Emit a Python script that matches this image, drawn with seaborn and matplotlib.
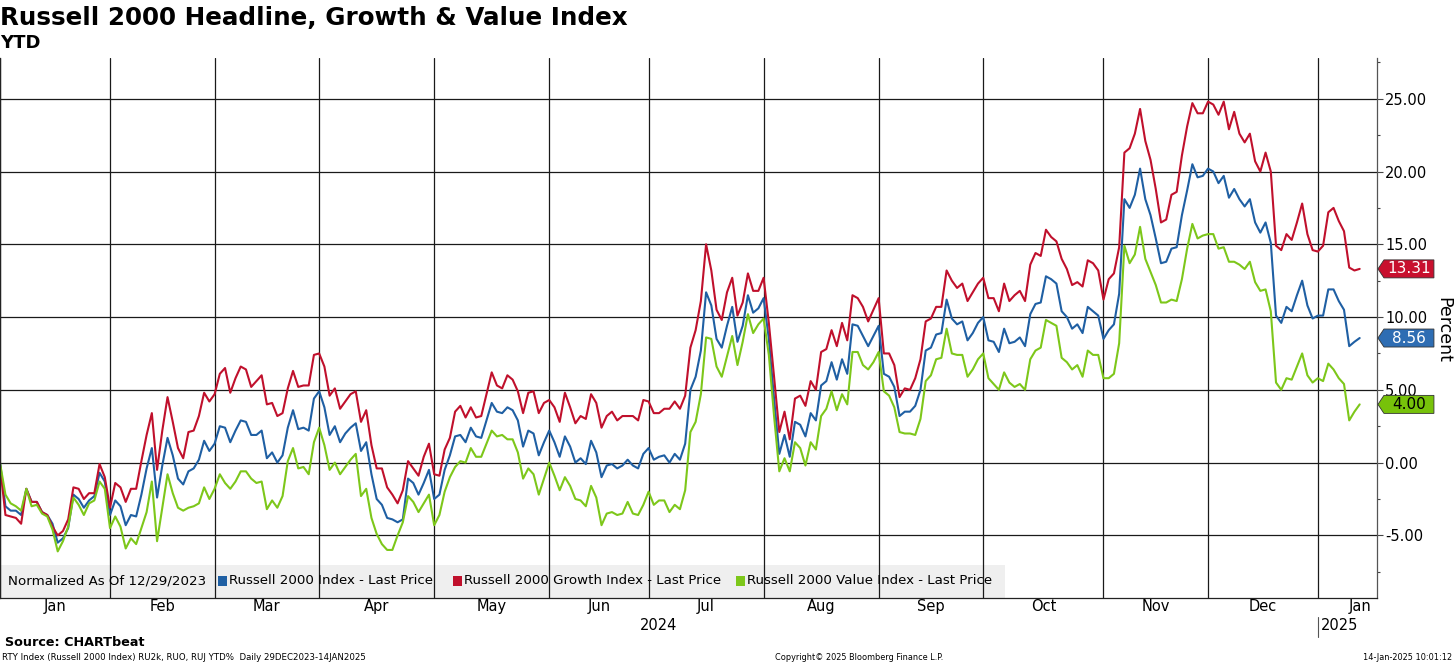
import numpy as np
import pandas as pd
import matplotlib
matplotlib.use("Agg")
import matplotlib.pyplot as plt
import matplotlib.transforms as mtransforms
from matplotlib.patches import Polygon, Rectangle
from matplotlib.ticker import MultipleLocator, FormatStrFormatter
import seaborn as sns

sns.set_theme(style="white")
plt.rcParams["font.family"] = ["DejaVu Sans"]
plt.rcParams["text.color"] = "black"
plt.rcParams["xtick.color"] = "black"
plt.rcParams["ytick.color"] = "black"

# NYSE closures in the window (Bloomberg skips them on the axis)
holidays = ["2024-01-01", "2024-01-15", "2024-02-19", "2024-03-29", "2024-05-27",
            "2024-06-19", "2024-07-04", "2024-09-02", "2024-11-28", "2024-12-25",
            "2025-01-01"]

# YTD % change, one value per trading day from 29-Dec-2023 to 14-Jan-2025
russell_2000 = [
    0.0, -0.1, -3.0, -3.3, -3.3, -3.6, -1.8, -2.7, -2.7, -3.4,
    -3.6, -4.2, -5.5, -5.2, -4.5, -2.2, -2.5, -3.1, -2.6, -2.3,
    -0.7, -1.3, -3.6, -2.6, -3.0, -4.3, -3.6, -3.7, -2.2, -0.4,
    1.0, -2.4, -0.2, 1.7, 0.5, -1.1, -1.5, -0.6, -0.4, 0.2,
    1.5, 0.8, 1.3, 2.5, 2.4, 1.4, 2.2, 2.9, 2.8, 1.9,
    1.9, 2.2, 0.3, 0.7, 0.0, 0.5, 2.4, 3.6, 2.3, 2.4,
    2.2, 4.4, 4.9, 3.8, 1.9, 2.5, 1.4, 2.0, 2.4, 2.7,
    0.8, 1.4, -0.8, -2.5, -2.9, -3.8, -3.9, -4.1, -3.9, -1.1,
    -1.4, -2.2, -1.4, -0.5, -2.5, -2.2, -0.5, 0.5, 1.8, 1.9,
    1.4, 2.4, 1.8, 1.7, 2.9, 4.1, 3.5, 3.4, 3.8, 3.6,
    2.9, 1.1, 2.2, 2.0, 0.5, 1.4, 2.2, 1.4, 0.4, 1.8,
    1.1, 0.0, 0.3, -0.1, 1.5, 0.7, -1.0, -0.2, -0.1, -0.4,
    -0.2, 0.2, -0.2, -0.4, 0.6, 1.0, 0.2, 0.4, 0.5, 0.0,
    0.6, 0.2, 1.3, 5.0, 5.9, 7.7, 11.7, 10.8, 8.5, 7.9,
    9.4, 10.7, 8.3, 9.4, 11.5, 10.3, 10.6, 11.3, 8.5, 4.4,
    0.6, 1.9, 0.4, 2.8, 2.6, 1.8, 3.4, 2.9, 5.3, 5.6,
    6.9, 5.7, 7.1, 6.1, 9.5, 9.4, 8.7, 8.0, 8.7, 9.4,
    6.1, 5.9, 5.2, 3.2, 3.5, 3.5, 3.9, 5.0, 7.7, 7.9,
    8.8, 8.9, 11.2, 9.9, 9.5, 9.7, 8.4, 8.9, 9.6, 10.0,
    8.4, 8.3, 7.6, 9.2, 8.2, 8.3, 8.6, 8.0, 10.2, 10.9,
    11.0, 12.8, 12.6, 12.3, 10.4, 10.0, 9.2, 9.5, 8.9, 10.7,
    10.4, 10.1, 8.5, 9.1, 9.5, 11.6, 18.1, 17.5, 18.4, 20.2,
    18.1, 17.0, 15.4, 13.7, 13.8, 14.7, 14.8, 17.0, 18.7, 20.5,
    19.6, 19.7, 20.2, 20.0, 19.2, 19.7, 18.2, 18.8, 18.1, 17.6,
    18.1, 16.5, 15.8, 16.5, 15.1, 10.1, 9.6, 10.7, 10.4, 11.5,
    12.5, 10.8, 9.9, 10.1, 10.1, 11.9, 11.9, 11.1, 10.5, 8.0,
    8.3, 8.56,
]

russell_growth = [
    0.0, -0.3, -3.6, -3.7, -3.8, -4.2, -1.8, -2.7, -2.7, -3.4,
    -3.6, -4.4, -5.0, -4.7, -3.9, -1.7, -1.8, -2.5, -2.1, -2.1,
    -0.1, -1.0, -3.1, -1.4, -1.7, -2.7, -1.8, -1.8, 0.1, 1.9,
    3.4, -0.5, 2.2, 4.5, 2.8, 1.0, 0.3, 2.1, 2.2, 3.2,
    4.8, 4.2, 4.7, 6.1, 6.5, 4.8, 5.8, 6.6, 6.4, 5.2,
    5.6, 6.0, 4.0, 4.1, 3.2, 3.4, 5.1, 6.3, 5.2, 5.3,
    5.3, 7.4, 7.5, 6.6, 4.6, 5.1, 3.7, 4.2, 4.7, 4.9,
    2.8, 3.6, 1.2, -0.4, -0.4, -1.7, -2.2, -2.8, -1.9, 0.1,
    -0.4, -0.9, 0.4, 1.3, -0.8, -0.9, 0.9, 1.7, 3.5, 3.9,
    3.1, 3.8, 3.1, 3.2, 4.7, 6.2, 5.3, 5.1, 6.0, 5.7,
    4.9, 3.4, 4.8, 4.9, 3.4, 4.1, 4.3, 3.8, 2.8, 4.8,
    3.8, 2.7, 3.2, 3.0, 4.7, 4.1, 2.4, 3.2, 3.5, 2.9,
    3.2, 3.2, 3.2, 2.9, 4.3, 4.2, 3.4, 3.4, 3.7, 3.7,
    4.2, 3.7, 4.6, 7.9, 9.1, 11.1, 15.0, 13.2, 10.5, 9.8,
    11.7, 12.7, 10.1, 11.0, 13.0, 11.8, 11.8, 12.7, 9.6, 5.9,
    2.1, 3.5, 1.6, 4.4, 4.6, 3.9, 5.6, 5.0, 7.6, 7.8,
    9.1, 8.0, 9.6, 8.4, 11.5, 11.3, 10.7, 9.7, 10.5, 11.3,
    7.5, 7.5, 6.7, 4.5, 5.1, 5.0, 5.8, 7.1, 9.7, 9.9,
    10.7, 10.7, 13.2, 12.5, 12.0, 12.3, 11.1, 11.7, 12.3, 12.7,
    11.3, 11.3, 10.4, 12.3, 11.1, 11.5, 11.8, 11.1, 13.6, 14.4,
    14.2, 16.0, 15.5, 15.2, 14.0, 13.3, 12.2, 12.4, 12.1, 13.9,
    13.7, 13.2, 11.2, 12.6, 13.0, 14.8, 21.3, 21.6, 22.6, 24.3,
    22.1, 20.8, 18.8, 16.5, 16.7, 18.4, 18.6, 21.1, 23.1, 24.7,
    24.0, 24.0, 24.8, 24.6, 23.9, 24.8, 22.9, 24.1, 22.6, 22.0,
    22.6, 20.7, 20.0, 21.3, 20.0, 14.9, 14.6, 15.7, 15.3, 16.5,
    17.8, 15.7, 14.6, 14.5, 14.9, 17.2, 17.5, 16.6, 15.9, 13.4,
    13.2, 13.31,
]

russell_value = [
    0.0, -0.1, -2.2, -2.8, -3.0, -3.3, -1.8, -3.0, -2.9, -3.5,
    -3.7, -4.6, -6.1, -5.4, -4.4, -2.4, -2.9, -3.6, -2.8, -2.6,
    -1.3, -1.8, -4.5, -3.7, -4.4, -5.9, -5.2, -5.6, -4.5, -3.4,
    -1.3, -5.4, -3.1, -0.8, -2.1, -3.1, -3.3, -3.1, -3.0, -2.8,
    -1.7, -2.5, -1.8, -0.8, -1.4, -1.8, -1.3, -0.6, -0.6, -1.1,
    -1.4, -1.3, -3.2, -2.6, -3.1, -2.3, 0.1, 1.0, -0.4, -0.3,
    -0.8, 1.4, 2.4, 1.2, -0.5, 0.0, -0.8, -0.3, 0.2, 0.6,
    -2.3, -1.8, -3.8, -4.9, -5.6, -6.0, -6.0, -5.0, -4.1, -2.3,
    -2.7, -3.4, -2.8, -2.2, -4.3, -3.6, -2.0, -1.0, -0.3, 0.1,
    0.0, 1.0, 0.4, 0.4, 1.3, 2.2, 1.8, 1.9, 1.6, 1.6,
    0.7, -1.1, -0.4, -0.8, -2.2, -1.1, 0.0, -0.9, -1.9, -1.0,
    -1.6, -2.5, -2.6, -3.0, -1.6, -2.4, -4.3, -3.5, -3.4, -3.6,
    -3.5, -2.7, -3.5, -3.6, -2.9, -2.0, -2.9, -2.6, -2.6, -3.4,
    -2.9, -3.2, -1.9, 2.1, 2.8, 4.7, 8.6, 8.5, 6.6, 5.9,
    7.3, 8.7, 6.7, 8.3, 10.2, 8.9, 9.5, 9.9, 7.4, 3.2,
    -0.6, 0.3, -0.6, 1.4, 1.0, -0.2, 1.4, 0.9, 3.2, 3.7,
    4.9, 3.6, 4.7, 4.0, 7.6, 7.6, 6.7, 6.4, 6.9, 7.6,
    4.9, 4.6, 3.8, 2.1, 2.0, 2.0, 1.9, 3.0, 5.6, 6.0,
    7.1, 7.2, 9.2, 7.5, 7.4, 7.4, 5.9, 6.4, 7.1, 7.5,
    5.8, 5.4, 5.0, 6.2, 5.5, 5.2, 5.4, 5.0, 7.1, 7.7,
    7.9, 9.8, 9.6, 9.4, 7.2, 6.9, 6.4, 6.7, 5.9, 7.7,
    7.4, 7.4, 5.8, 5.8, 6.1, 8.2, 14.9, 13.7, 14.3, 16.2,
    14.0, 13.1, 12.2, 11.0, 11.0, 11.2, 11.1, 12.6, 14.7, 16.4,
    15.4, 15.6, 15.7, 15.7, 14.7, 14.8, 13.8, 13.8, 13.6, 13.3,
    13.8, 12.4, 11.8, 11.9, 10.4, 5.5, 5.0, 5.8, 5.7, 6.6,
    7.5, 6.0, 5.5, 5.8, 5.6, 6.8, 6.4, 5.8, 5.4, 2.9,
    3.5, 4.00,
]

series_names = ["Russell 2000 Index - Last Price",
                "Russell 2000 Growth Index - Last Price",
                "Russell 2000 Value Index - Last Price"]
line_colors = ["#1f5fa3", "#c0102c", "#7dc71a"]
tag_colors = ["#2e6db3", "#c8102e", "#77c20a"]
tag_text_colors = ["white", "white", "black"]

# trading-day axis
days = pd.bdate_range("2023-12-29", "2025-01-14")
days = days[~days.isin(pd.to_datetime(holidays))]
pos = np.arange(len(days))

wide = pd.DataFrame({"pos": pos,
                     series_names[0]: russell_2000,
                     series_names[1]: russell_growth,
                     series_names[2]: russell_value})
long = wide.melt(id_vars="pos", var_name="series", value_name="pct")

fig = plt.figure(figsize=(14.56, 6.65), dpi=100)
ax = fig.add_axes([0.0, 0.1008, 0.9457, 0.812])
ax.set_axisbelow("line")

sns.lineplot(data=long, x="pos", y="pct", hue="series", hue_order=series_names,
             palette=line_colors, linewidth=1.5, legend=False, ax=ax,
             estimator=None, errorbar=None)

x_lo, x_hi = 0.96, 264.3
y_lo, y_hi = -9.3, 27.8
ax.set_xlim(x_lo, x_hi)
ax.set_ylim(y_lo, y_hi)
ax.set_xlabel("")
ax.set_ylabel("")

# month boundaries
month = days.to_period("M")
starts = list(np.flatnonzero(month[1:] != month[:-1]) + 1)
ax.set_xticks(starts)
ax.set_xticklabels([])
ax.tick_params(axis="x", length=0)

ax.yaxis.tick_right()
ax.yaxis.set_major_locator(MultipleLocator(5))
ax.yaxis.set_minor_locator(MultipleLocator(2.5))
ax.yaxis.set_major_formatter(FormatStrFormatter("%.2f"))
ax.tick_params(axis="y", which="major", length=4, width=0.8, color="#444444",
               labelsize=10.5, labelcolor="black", pad=2, right=True, left=False)
ax.tick_params(axis="y", which="minor", length=2, width=0.8, color="#444444",
               right=True, left=False)
ax.grid(True, which="major", color="#1a1a1a", linewidth=0.9)

for side in ["left", "bottom", "right"]:
    ax.spines[side].set_visible(True)
    ax.spines[side].set_color("#222222")
    ax.spines[side].set_linewidth(0.9)
ax.spines["right"].set_color("#555555")
ax.spines["top"].set_visible(False)

W = ax.get_position().width * fig.get_figwidth() * fig.dpi
H = ax.get_position().height * fig.get_figheight() * fig.dpi
fx = lambda px: px / W
fy = lambda px: px / H
blend = mtransforms.blended_transform_factory(ax.transData, ax.transAxes)
blend_y = mtransforms.blended_transform_factory(ax.transAxes, ax.transData)

# month names and years under the axis
for i, s in enumerate(starts):
    if i + 1 < len(starts):
        cx = (s + starts[i + 1]) / 2
    else:
        cx = pos[-1]
    ax.text(cx, -fy(9), days[s].strftime("%b"), transform=blend, ha="center",
            va="center", fontsize=10.5, clip_on=False)
year_starts = [s for s in starts if days[s].month == 1]
ax.text((year_starts[0] + year_starts[1]) / 2, -fy(28), str(days[year_starts[0]].year),
        transform=blend, ha="center", va="center", fontsize=10.5, clip_on=False)
ax.text(year_starts[1] + 0.6, -fy(28), str(days[year_starts[1]].year),
        transform=blend, ha="left", va="center", fontsize=10.5, clip_on=False)
ax.plot([year_starts[1], year_starts[1]], [-fy(19), -fy(39)], transform=blend,
        color="#555555", lw=0.8, clip_on=False)

# legend strip inside the plot (gridlines show through it)
ax.add_patch(Rectangle((0, 0), fx(1005), fy(33), transform=ax.transAxes,
                       facecolor="#efefef", edgecolor="none", zorder=1))
leg_y = fy(17)
ax.text(fx(8), leg_y, "Normalized As Of 12/29/2023", transform=ax.transAxes,
        fontsize=9.6, va="center", ha="left", zorder=3)
for name, col, sq_x in zip(series_names, line_colors, [218, 453, 736]):
    ax.add_patch(Rectangle((fx(sq_x), leg_y - fy(5)), fx(9), fy(10),
                           transform=ax.transAxes, facecolor=col,
                           edgecolor="none", zorder=3))
    ax.text(fx(sq_x + 11), leg_y, name, transform=ax.transAxes, fontsize=9.6,
            va="center", ha="left", zorder=3)

# last-value tags on the right axis
half = fy(9) * (y_hi - y_lo)
for vals, col, tcol in zip([russell_2000, russell_growth, russell_value],
                           tag_colors, tag_text_colors):
    v = vals[-1]
    x0, x1, x2 = 1 + fx(1), 1 + fx(7), 1 + fx(57)
    ax.add_patch(Polygon([(x0, v), (x1, v + half), (x2, v + half),
                          (x2, v - half), (x1, v - half)], closed=True,
                         transform=blend_y, facecolor=col, edgecolor="#333333",
                         linewidth=0.6, clip_on=False, zorder=5))
    ax.text(1 + fx(32), v, f"{v:.2f}", transform=blend_y, ha="center",
            va="center", fontsize=11, color=tcol, clip_on=False, zorder=6)

fig.text(1443 / 1456, 1 - 330 / 665, "Percent", rotation=270, ha="center",
         va="center", fontsize=12.5)

# titles and footer
fig.text(0.0, 1 - 18 / 665, "Russell 2000 Headline, Growth & Value Index",
         fontsize=17.7, fontweight="bold", va="center", ha="left")
fig.text(0.0, 1 - 43 / 665, "YTD", fontsize=13, fontweight="bold",
         va="center", ha="left")
fig.text(5 / 1456, 1 - 643 / 665, "Source: CHARTbeat", fontsize=9.2,
         fontweight="bold", va="center", ha="left")
fig.text(2 / 1456, 1 - 658 / 665,
         "RTY Index (Russell 2000 Index) RU2k, RUO, RUJ YTD%  Daily 29DEC2023-14JAN2025",
         fontsize=6.2, va="center", ha="left")
fig.text(775 / 1456, 1 - 658 / 665, "Copyright\u00a9 2025 Bloomberg Finance L.P.",
         fontsize=5.9, va="center", ha="left")
fig.text(1452 / 1456, 1 - 658 / 665, "14-Jan-2025 10:01:12", fontsize=5.9,
         va="center", ha="right")

fig.savefig("out.png", dpi=100, facecolor="white")
